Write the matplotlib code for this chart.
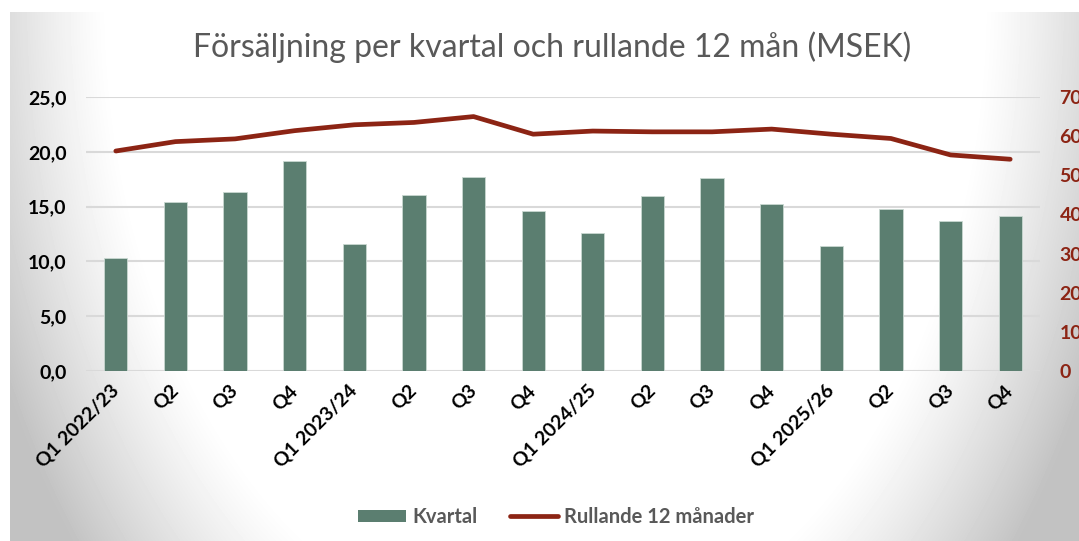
import numpy as np
import matplotlib
matplotlib.use("Agg")
import matplotlib.pyplot as plt
from matplotlib.lines import Line2D
from matplotlib.patches import Patch
from matplotlib.ticker import FuncFormatter

quarters = [
    "Q1 2022/23", "Q2", "Q3", "Q4",
    "Q1 2023/24", "Q2", "Q3", "Q4",
    "Q1 2024/25", "Q2", "Q3", "Q4",
    "Q1 2025/26", "Q2", "Q3", "Q4",
]
kvartal = [10.3, 15.4, 16.3, 19.2, 11.6, 16.1, 17.7, 14.6,
           12.6, 16.0, 17.6, 15.2, 11.4, 14.8, 13.7, 14.1]
rullande = [56.2, 58.6, 59.3, 61.4, 62.9, 63.5, 65.0, 60.5,
            61.3, 61.1, 61.1, 61.8, 60.5, 59.4, 55.2, 54.1]

BAR_COLOR = "#5b7e70"
LINE_COLOR = "#8c2414"
TEXT_GRAY = "#595959"
FONT = ["Lato", "DejaVu Sans"]

plt.rcParams["font.family"] = FONT

fig = plt.figure(figsize=(10.79, 5.41), dpi=100)
fig.patch.set_facecolor("white")

# radial-ish background gradient of the chart area
bg = fig.add_axes([10 / 1079, 0, 1 - 10 / 1079, 1 - 12 / 541], zorder=-10)
h, w = 529, 1069
yy, xx = np.mgrid[0:h, 0:w]
u = (xx + 10 - 545) / 545
v = (yy + 12) / 800
d = np.sqrt(u ** 2 + v ** 2)
shade = 1 - 0.24 * np.clip((d - 0.8) / 0.3, 0, 1) ** 1.2
bg.imshow(shade, cmap="gray", vmin=0, vmax=1, aspect="auto", interpolation="bilinear")
bg.axis("off")

ax = fig.add_axes([86 / 1079, 1 - 371 / 541, (1040 - 86) / 1079, (371 - 97) / 541])
ax.set_facecolor("none")
x = np.arange(len(quarters))
ax.bar(x, kvartal, width=0.39, color=BAR_COLOR, edgecolor="#c9d8d1", linewidth=0.6, zorder=3)
ax.set_xlim(-0.5, len(quarters) - 0.5)
ax.set_ylim(0, 25)
ax.set_yticks(np.arange(0, 26, 5))
ax.yaxis.set_major_formatter(FuncFormatter(lambda val, pos: f"{val:.1f}".replace(".", ",")))
ax.grid(axis="y", color="#d9d9d9", linewidth=1.5, zorder=0)
ax.set_axisbelow(True)
for s in ax.spines.values():
    s.set_visible(False)
ax.tick_params(axis="y", length=0, pad=14, labelsize=14, labelcolor="black")
ax.tick_params(axis="x", length=0, pad=12)
ax.set_xticks(x)
ax.set_xticklabels(quarters, rotation=45, ha="right", va="center",
                   rotation_mode="anchor", fontsize=14, fontweight="bold")
for lab in ax.get_yticklabels():
    lab.set_fontweight("bold")

ax2 = ax.twinx()
ax2.plot(x, rullande, color=LINE_COLOR, linewidth=3.4, solid_capstyle="round",
         solid_joinstyle="round", zorder=4)
ax2.set_ylim(0, 70)
ax2.set_yticks(np.arange(0, 71, 10))
for s in ax2.spines.values():
    s.set_visible(False)
ax2.tick_params(axis="y", length=0, pad=14, labelsize=14, labelcolor=LINE_COLOR)
for lab in ax2.get_yticklabels():
    lab.set_fontweight("bold")

fig.text(552 / 1079, 1 - 47 / 541, "Försäljning per kvartal och rullande 12 mån (MSEK)",
         ha="center", va="center", fontsize=23, color=TEXT_GRAY)

handles = [
    Patch(facecolor=BAR_COLOR, edgecolor="none", label="Kvartal"),
    Line2D([0], [0], color=LINE_COLOR, linewidth=3.4, solid_capstyle="round",
           label="Rullande 12 månader"),
]
leg = fig.legend(handles=handles, loc="center", bbox_to_anchor=(556 / 1079, 1 - 517 / 541),
                 ncol=2, frameon=False, handlelength=2.4, handleheight=0.6,
                 handletextpad=0.3, columnspacing=1.6,
                 prop={"family": FONT, "weight": "bold", "size": 14.5})
for t in leg.get_texts():
    t.set_color(TEXT_GRAY)

fig.savefig("out.png", dpi=100)
